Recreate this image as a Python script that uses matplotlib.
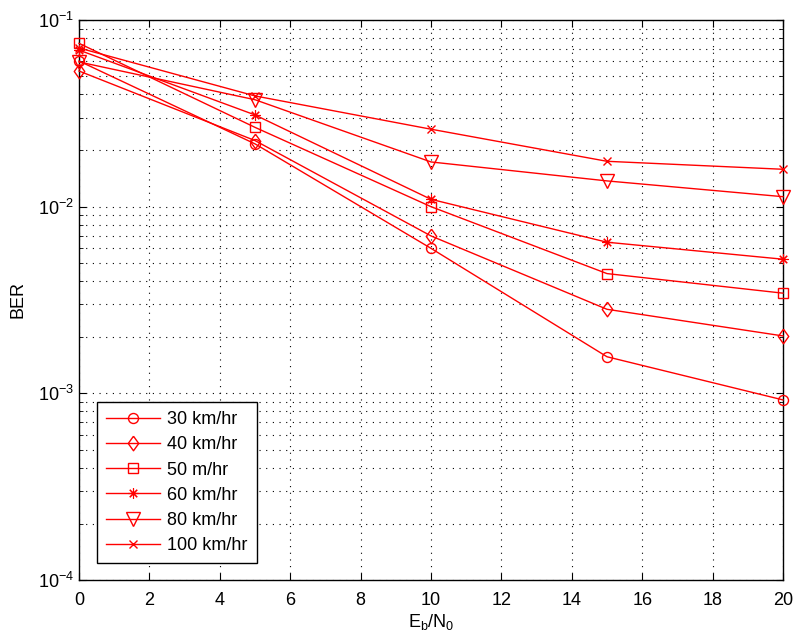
import matplotlib
matplotlib.use("Agg")
import matplotlib.pyplot as plt
from matplotlib.ticker import LogLocator, NullFormatter, MultipleLocator

plt.rcParams['font.family'] = ['Liberation Sans', 'DejaVu Sans']
plt.rcParams['mathtext.default'] = 'regular'

ebn0 = [0, 5, 10, 15, 20]
ber_30 = [0.0603, 0.0217, 0.00598, 0.00157, 0.000922]
ber_40 = [0.0533, 0.0226, 0.00697, 0.00282, 0.00203]
ber_50 = [0.0750, 0.0266, 0.0100, 0.00438, 0.00344]
ber_60 = [0.0690, 0.0310, 0.01095, 0.00645, 0.00523]
ber_80 = [0.0596, 0.0374, 0.01736, 0.01374, 0.01131]
ber_100 = [0.0708, 0.0392, 0.0260, 0.0175, 0.01586]
labels = ['30 km/hr', '40 km/hr', '50 m/hr', '60 km/hr', '80 km/hr', '100 km/hr']
series = [ber_30, ber_40, ber_50, ber_60, ber_80, ber_100]

diamond = [(0, 1), (0.72, 0), (0, -1), (-0.72, 0), (0, 1)]
markers = ['o', diamond, 's', (8, 2, 0), 'v', 'x']
msizes = [7.2, 10.5, 6.7, 7.5, 9.5, 6]
mews = [1.0, 1.0, 1.0, 0.8, 1.0, 1.0]

fig = plt.figure(figsize=(7.96, 6.39), dpi=100)
ax = fig.add_axes([79/796, 1 - 580/639, (783-79)/796, (580-20)/639])

for y, lab, m, ms, mw in zip(series, labels, markers, msizes, mews):
    ax.semilogy(ebn0, y, color='red', lw=1.0, marker=m, ms=ms,
                mfc='none', mec='red', mew=mw, label=lab, clip_on=False, zorder=3)

ax.set_xlim(0, 20)
ax.set_ylim(1e-4, 1e-1)
ax.xaxis.set_major_locator(MultipleLocator(2))
ax.yaxis.set_major_locator(LogLocator(base=10, numticks=10))
ax.yaxis.set_minor_locator(LogLocator(base=10, subs=range(2, 10), numticks=20))
ax.yaxis.set_minor_formatter(NullFormatter())
ax.grid(True, which='major', ls=(0, (1, 5)), color='black', lw=0.8)
ax.grid(True, which='minor', axis='y', ls=(0, (1, 5)), color='black', lw=0.8)
ax.tick_params(which='both', direction='in', top=True, right=True, labelsize=13)
ax.tick_params(which='major', length=5)
ax.tick_params(which='minor', length=3)
ax.tick_params(axis='x', pad=8.5)
for s in ax.spines.values():
    s.set_linewidth(1.0)

ax.set_xlabel('$E_b/N_0$', fontsize=13, labelpad=2)
ax.set_ylabel('BER', fontsize=13, labelpad=8)

leg = ax.legend(loc='lower left', bbox_to_anchor=((97-79)/704, (580-563)/560),
                borderaxespad=0, fontsize=13,
                frameon=True, fancybox=False, edgecolor='black', framealpha=1,
                handlelength=3.0, borderpad=0.5, labelspacing=0.45, handletextpad=0.4)
leg.get_frame().set_linewidth(1.0)
leg.set_zorder(5)

fig.savefig('out.png', dpi=100)
